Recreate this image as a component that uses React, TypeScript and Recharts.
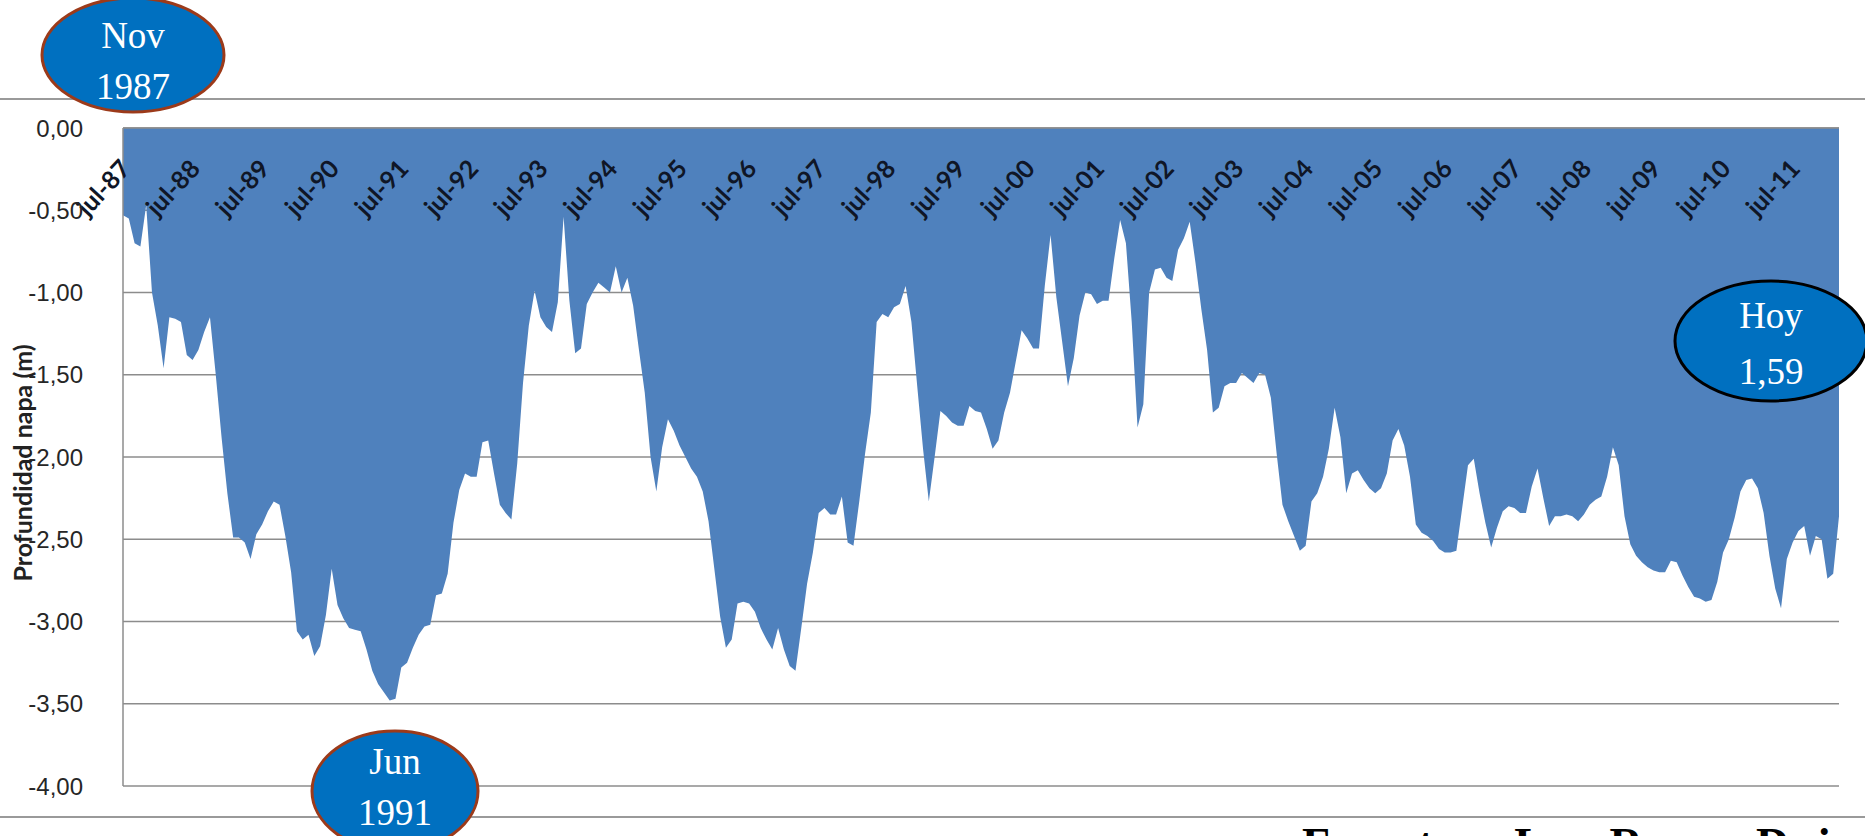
import { AreaChart, Area, XAxis, YAxis, CartesianGrid, Label } from 'recharts';

// Serie mensual de profundidad de napa (m), desde jul-87
const MESES = ['ene', 'feb', 'mar', 'abr', 'may', 'jun', 'jul', 'ago', 'sep', 'oct', 'nov', 'dic'];
const MES_INICIAL = 6; // julio
const ANIO_INICIAL = 87;

const prof1987_1992 = [
  -0.53, -0.55, -0.70, -0.72, -0.47, -1.00, -1.20, -1.46, -1.15, -1.16,
  -1.18, -1.38, -1.41, -1.35, -1.24, -1.15, -1.50, -1.88, -2.22, -2.49,
  -2.49, -2.52, -2.62, -2.47, -2.41, -2.33, -2.27, -2.29, -2.48, -2.70,
  -3.06, -3.11, -3.08, -3.21, -3.15, -2.96, -2.68, -2.90, -2.98, -3.04,
  -3.05, -3.06, -3.17, -3.30, -3.38, -3.43, -3.48, -3.47, -3.28, -3.25,
  -3.16, -3.08, -3.03, -3.02, -2.84, -2.83, -2.71, -2.40, -2.20, -2.10,
];
const prof1992_1997 = [
  -2.12, -2.12, -1.91, -1.90, -2.10, -2.29, -2.34, -2.38, -2.04, -1.55,
  -1.20, -0.99, -1.15, -1.21, -1.24, -1.06, -0.54, -1.05, -1.37, -1.34,
  -1.07, -1.00, -0.94, -0.97, -1.00, -0.84, -1.00, -0.91, -1.08, -1.35,
  -1.61, -2.00, -2.21, -1.94, -1.77, -1.84, -1.93, -2.00, -2.07, -2.12,
  -2.21, -2.39, -2.68, -2.97, -3.16, -3.11, -2.89, -2.88, -2.89, -2.94,
  -3.04, -3.11, -3.17, -3.04, -3.17, -3.27, -3.30, -3.04, -2.77, -2.58,
];
const prof1997_2002 = [
  -2.34, -2.31, -2.35, -2.35, -2.24, -2.52, -2.54, -2.27, -1.98, -1.73,
  -1.18, -1.13, -1.15, -1.09, -1.07, -0.96, -1.18, -1.57, -1.95, -2.27,
  -2.00, -1.72, -1.75, -1.79, -1.81, -1.81, -1.69, -1.72, -1.73, -1.83,
  -1.95, -1.90, -1.73, -1.61, -1.42, -1.23, -1.28, -1.34, -1.34, -0.96,
  -0.65, -1.03, -1.30, -1.57, -1.40, -1.14, -1.00, -1.01, -1.07, -1.05,
  -1.05, -0.79, -0.56, -0.70, -1.18, -1.82, -1.68, -1.00, -0.86, -0.85,
];
const prof2002_2007 = [
  -0.91, -0.93, -0.74, -0.67, -0.57, -0.82, -1.10, -1.35, -1.73, -1.70,
  -1.57, -1.55, -1.55, -1.49, -1.52, -1.55, -1.49, -1.50, -1.64, -1.98,
  -2.29, -2.39, -2.48, -2.57, -2.54, -2.27, -2.22, -2.12, -1.95, -1.70,
  -1.88, -2.22, -2.10, -2.08, -2.14, -2.19, -2.22, -2.19, -2.10, -1.90,
  -1.83, -1.93, -2.12, -2.41, -2.46, -2.48, -2.51, -2.56, -2.58, -2.58,
  -2.57, -2.31, -2.05, -2.01, -2.22, -2.40, -2.55, -2.43, -2.33, -2.30,
];
const prof2007_2012 = [
  -2.31, -2.34, -2.34, -2.18, -2.07, -2.25, -2.42, -2.36, -2.36, -2.35,
  -2.36, -2.39, -2.35, -2.29, -2.26, -2.24, -2.12, -1.94, -2.05, -2.36,
  -2.53, -2.60, -2.64, -2.67, -2.69, -2.70, -2.70, -2.63, -2.64, -2.72,
  -2.79, -2.85, -2.86, -2.88, -2.87, -2.76, -2.58, -2.50, -2.37, -2.21,
  -2.14, -2.13, -2.19, -2.34, -2.60, -2.80, -2.92, -2.62, -2.52, -2.45,
  -2.42, -2.60, -2.48, -2.50, -2.74, -2.71, -2.36,
];

const yTicks = [0, -0.5, -1, -1.5, -2, -2.5, -3, -3.5, -4];

const profundidad = [
  ...prof1987_1992,
  ...prof1992_1997,
  ...prof1997_2002,
  ...prof2002_2007,
  ...prof2007_2012,
];

const etiquetaMes = (i: number) => {
  const n = MES_INICIAL + i;
  const anio = (ANIO_INICIAL + Math.floor(n / 12)) % 100;
  return `${MESES[n % 12]}-${String(anio).padStart(2, '0')}`;
};

const data = profundidad.map((prof, i) => ({ mes: etiquetaMes(i), prof }));

const W = 1865;
const H = 836;
const PLOT_TOP = 128;
const PLOT_BOTTOM = 786;
const PLOT_LEFT = 123;
const PLOT_RIGHT = 1839;

const fmt = (v: number) => v.toFixed(2).replace('.', ',').replace('-0,00', '0,00');

const TickMes = (props: any) => {
  const { x, payload } = props;
  const px = x + 9;
  const py = PLOT_TOP + 42;
  return (
    <text
      x={px}
      y={py}
      textAnchor="end"
      transform={`rotate(-47 ${px} ${py})`}
      fontSize={25}
      fontWeight="bold"
      fontFamily="Lato, 'Liberation Sans', sans-serif"
      fill="#0f1626"
    >
      {payload.value}
    </text>
  );
};

const Burbuja = ({ cx, cy, rx, ry, borde, lineas, dy = 0, gap = 51 }: any) => (
  <g>
    <ellipse cx={cx} cy={cy} rx={rx} ry={ry} fill="#0070C0" stroke={borde} strokeWidth={3} />
    {lineas.map((t: string, i: number) => (
      <text
        key={t}
        x={cx}
        y={cy - 24 + dy + i * gap}
        textAnchor="middle"
        dominantBaseline="central"
        fontSize={37}
        fontFamily="'Liberation Serif', serif"
        fill="#fff"
      >
        {t}
      </text>
    ))}
  </g>
);

export default function App() {
  return (
    <div
      style={{
        position: 'absolute',
        left: 0,
        top: 0,
        width: W,
        height: H,
        overflow: 'hidden',
        background: '#fff',
      }}
    >
      <div style={{ position: 'absolute', left: 0, top: 98, width: W, height: 2, background: '#9a9a9a' }} />
      <div style={{ position: 'absolute', left: 0, top: 816, width: W, height: 2, background: '#9a9a9a' }} />

      <div style={{ position: 'absolute', left: 0, top: 0 }}>
        <AreaChart
          width={W}
          height={H}
          data={data}
          margin={{ top: PLOT_TOP - 1, right: W - PLOT_RIGHT, bottom: H - PLOT_BOTTOM, left: 0 }}
        >
          <CartesianGrid vertical={false} stroke="#8c8c8c" strokeWidth={1.5} />
          <XAxis
            dataKey="mes"
            orientation="top"
            height={1}
            interval={11}
            tickLine={false}
            axisLine={{ stroke: '#8c8c8c', strokeWidth: 1.5 }}
            tick={<TickMes />}
          />
          <YAxis
            width={PLOT_LEFT}
            domain={[-4, 0]}
            ticks={yTicks}
            tickFormatter={fmt}
            tickLine={false}
            tickSize={0}
            tickMargin={40}
            axisLine={{ stroke: '#8c8c8c', strokeWidth: 1.5 }}
            tick={{ fill: '#262626', fontSize: 24, fontFamily: "'Liberation Sans', sans-serif" }}
          >
            <Label
              content={() => (
                <text
                  x={22}
                  y={463}
                  transform="rotate(-90 22 463)"
                  textAnchor="middle"
                  dominantBaseline="central"
                  fontSize={25}
                  fontWeight="bold"
                  fontFamily="Lato, 'Liberation Sans', sans-serif"
                  fill="#222"
                >
                  Profundidad napa (m)
                </text>
              )}
            />
          </YAxis>
          <Area
            type="linear"
            dataKey="prof"
            fill="#4F81BD"
            fillOpacity={1}
            stroke="none"
            dot={false}
            activeDot={false}
            isAnimationActive={false}
          />
        </AreaChart>
      </div>

      <svg width={W} height={H} style={{ position: 'absolute', left: 0, top: 0, pointerEvents: 'none' }}>
        <Burbuja cx={133} cy={55} rx={91} ry={57} borde="#9C3A1A" lineas={['Nov', '1987']} dy={4} />
        <Burbuja cx={395} cy={791} rx={83} ry={60} borde="#9C3A1A" lineas={['Jun', '1991']} dy={-6} />
        <Burbuja cx={1771} cy={341} rx={96} ry={60} borde="#000" lineas={['Hoy', '1,59']} dy={-2} gap={56} />
        <text
          x={1302}
          y={860}
          fontSize={46}
          fontWeight="bold"
          fontFamily="'Liberation Serif', serif"
          fill="#000"
          letterSpacing={4}
          wordSpacing={18}
        >
          Fuente: La Rosa Dei
        </text>
      </svg>
    </div>
  );
}
